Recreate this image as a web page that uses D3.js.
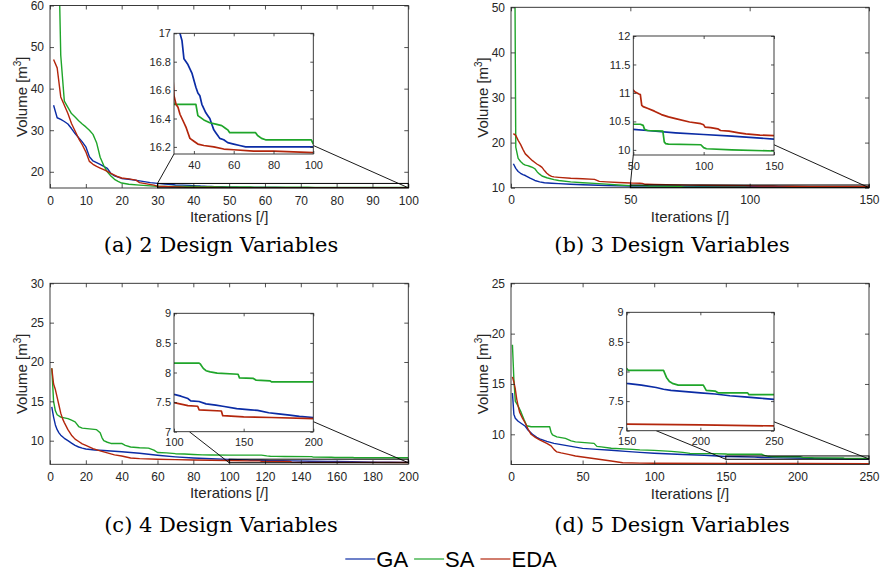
<!DOCTYPE html>
<html>
<head>
<meta charset="utf-8">
<script src="https://cdn.jsdelivr.net/npm/d3@7/dist/d3.min.js"></script>
<style>
  body { margin: 0; background: #fff; }
  svg { display: block; }
</style>
</head>
<body>
<script>
const algorithms = ['GA', 'SA', 'EDA'];
const colors = ['#0b2ca5', '#1fa52a', '#b3260c'];

// (a) 2 design variables: [iteration, volume]
const gaA = [[1,36],[2,33],[3,32.6],[4,32.1],[5,31.5],[6,30.4],[7,29.2],[8,28.2],[9,27.2],[10,26],[11,23.6],[12,22.6],[13,22.2],[14,21.8],[15,21.3],[16,20.8],[17,19.6],[18,19],[19,18.7],[20,18.4],[22,18.2],[25,17.8],[28,17.4],[30,17.2],[32,17.05],[34,16.95],[35,16.82],[37,16.78],[39,16.72],[41,16.62],[42,16.58],[43,16.56],[44,16.5],[45,16.47],[46,16.44],[47,16.42],[48,16.4],[49,16.36],[50,16.32],[51,16.3],[52,16.28],[53,16.26],[55,16.25],[57,16.23],[60,16.22],[63,16.21],[66,16.2],[100,16.2]];
const saA = [[1,150],[2,90],[3,48],[4,37],[5,35.5],[6,34],[7,33.2],[8,32.3],[9,31.5],[10,30.8],[11,30],[12,29],[13,27],[14,23.5],[15,21.5],[16,20],[17,19],[18,18.2],[19,17.7],[20,17.3],[22,17],[25,16.8],[28,16.6],[30,16.5],[41,16.5],[42,16.42],[45,16.39],[48,16.37],[51,16.36],[54,16.35],[56,16.33],[57,16.32],[58,16.3],[71,16.3],[72,16.28],[74,16.26],[76,16.25],[99,16.25],[100,16.22]];
const edaA = [[1,47],[2,45],[3,38],[4,36],[5,34],[6,31.6],[7,29.8],[8,28],[9,26.5],[10,24.8],[11,22.5],[12,21.8],[13,21.3],[14,20.9],[15,20.5],[16,20.1],[17,19.6],[18,19.2],[19,18.8],[20,18.5],[22,18.3],[24,18],[25,17.4],[27,17.1],[29,16.8],[30,16.56],[31,16.5],[32,16.48],[33,16.43],[34,16.4],[35,16.37],[36,16.34],[37,16.3],[38,16.26],[40,16.24],[42,16.22],[45,16.21],[50,16.2],[55,16.185],[60,16.18],[70,16.17],[80,16.17],[100,16.16]];

// (b) 3 design variables
const gaB = [[1,15.3],[2,14.3],[3,13.6],[4,13.2],[5,12.9],[6,12.7],[8,12.1],[10,11.6],[12,11.3],[14,11.1],[17,11],[20,10.9],[25,10.78],[30,10.65],[40,10.5],[50,10.36],[60,10.34],[80,10.3],[100,10.27],[120,10.24],[150,10.19]];
const saB = [[1,120],[2,19],[3,16.5],[4,15.8],[5,15.3],[6,15],[7,14.9],[8,14.7],[9,14.5],[10,14.2],[11,13.5],[12,13],[13,12.6],[15,12.2],[18,11.8],[20,11.6],[25,11.3],[30,11.1],[35,10.95],[40,10.8],[45,10.6],[50,10.45],[55,10.45],[57,10.43],[58,10.36],[60,10.34],[71,10.33],[72,10.14],[73,10.11],[75,10.1],[98,10.09],[100,10.04],[102,10.02],[120,10],[150,9.98]];
const edaB = [[1,22],[2,21.6],[3,20.5],[4,19.6],[5,18.5],[6,17.5],[7,17],[8,16.5],[9,16],[10,15.6],[11,15.2],[12,14.9],[13,14.5],[14,13.8],[15,13.2],[16,12.8],[17,12.5],[18,12.4],[20,12.3],[25,12.1],[30,12],[35,11.85],[37,11.4],[40,11.3],[45,11.15],[50,11.05],[51,11.02],[54,10.98],[55,10.97],[56,10.78],[57,10.76],[60,10.73],[65,10.68],[70,10.62],[75,10.58],[80,10.55],[90,10.49],[98,10.46],[100,10.44],[101,10.4],[105,10.39],[110,10.37],[112,10.34],[118,10.33],[125,10.3],[130,10.28],[140,10.26],[150,10.25]];

// (c) 4 design variables
const gaC = [[1,14.3],[2,13],[3,12],[4,11.4],[5,11],[6,10.7],[8,10.3],[10,10],[12,9.7],[14,9.4],[16,9.2],[18,9.05],[20,8.95],[25,8.82],[30,8.75],[40,8.6],[50,8.4],[60,8.15],[70,7.95],[80,7.8],[90,7.7],[100,7.63],[105,7.6],[110,7.56],[112,7.52],[118,7.51],[123,7.47],[130,7.45],[135,7.43],[145,7.39],[155,7.37],[160,7.36],[168,7.32],[175,7.3],[183,7.28],[190,7.26],[200,7.24]];
const saC = [[1,19.2],[2,15],[3,13.8],[4,13.3],[6,13],[8,12.9],[10,12.8],[12,12.6],[14,12.4],[15,12.1],[16,11.8],[18,11.6],[22,11.5],[26,11.4],[28,11],[29,10.4],[30,10],[32,9.8],[34,9.65],[40,9.65],[42,9.4],[45,9.2],[50,9.1],[55,9.05],[58,8.8],[60,8.5],[65,8.45],[70,8.35],[75,8.3],[80,8.25],[85,8.2],[90,8.18],[100,8.16],[118,8.16],[119,8.14],[121,8.07],[123,8.03],[126,8.01],[131,7.99],[146,7.97],[147,7.91],[157,7.9],[159,7.87],[169,7.86],[170,7.84],[200,7.84]];
const edaC = [[1,19.2],[2,17.2],[3,16.5],[4,15.5],[5,14.5],[6,13.5],[7,12.8],[8,12.3],[10,11.4],[12,10.7],[14,10.2],[16,9.9],[18,9.6],[20,9.4],[24,9],[28,8.7],[32,8.45],[36,8.2],[40,8.05],[45,7.8],[50,7.72],[60,7.65],[70,7.6],[80,7.55],[90,7.52],[100,7.49],[110,7.44],[117,7.43],[118,7.37],[134,7.35],[135,7.27],[150,7.25],[170,7.24],[200,7.22]];

// (d) 5 design variables
const gaD = [[1,14.1],[2,12],[3,11.6],[5,11.3],[8,11],[10,10.8],[12,10.4],[15,10],[18,9.7],[20,9.55],[25,9.3],[30,9.1],[40,8.85],[50,8.6],[60,8.5],[70,8.42],[80,8.3],[90,8.2],[100,8.12],[120,8],[135,7.92],[150,7.8],[160,7.77],[170,7.73],[175,7.7],[180,7.68],[190,7.66],[200,7.64],[210,7.62],[220,7.59],[230,7.57],[240,7.55],[250,7.53]];
const saD = [[1,18.9],[2,15.5],[3,13.3],[5,12.8],[7,12.2],[9,11.5],[11,10.85],[14,10.75],[27,10.75],[28,10.2],[29,9.95],[32,9.75],[38,9.6],[42,9.35],[45,9.25],[58,9.1],[60,8.8],[63,8.75],[70,8.62],[85,8.5],[90,8.45],[100,8.4],[112,8.3],[120,8.2],[125,8.1],[140,8.08],[150,8.05],[151,8.02],[175,8.02],[177,7.9],[179,7.83],[181,7.8],[185,7.77],[202,7.77],[204,7.68],[210,7.67],[212,7.64],[232,7.64],[233,7.61],[250,7.61]];
const edaD = [[1,15.7],[2,15.2],[3,14.5],[4,13.5],[5,12.8],[6,12.2],[8,11.6],[10,11.1],[12,10.5],[14,10],[17,9.7],[20,9.45],[25,9.1],[28,8.85],[30,8.5],[32,8.25],[35,8.15],[40,8],[45,7.85],[50,7.75],[60,7.55],[70,7.35],[78,7.18],[90,7.14],[100,7.12],[150,7.11],[200,7.1],[250,7.08]];

// tick values
const xTicksA = [0,10,20,30,40,50,60,70,80,90,100];
const yTicksA = [20,30,40,50,60];
const xTicksB = [0,50,100,150];
const yTicksB = [10,20,30,40,50];
const xTicksC = [0,20,40,60,80,100,120,140,160,180,200];
const yTicksC = [10,15,20,25,30];
const xTicksD = [0,50,100,150,200,250];
const yTicksD = [10,15,20,25];
const insetXTicksA = [40,60,80,100];
const insetYTicksA = [16.2,16.4,16.6,16.8,17];
const insetXTicksB = [50,100,150];
const insetYTicksB = [10,10.5,11,11.5,12];
const insetXTicksC = [100,150,200];
const insetYTicksC = [7,7.5,8,8.5,9];
const insetXTicksD = [150,200,250];
const insetYTicksD = [7,7.5,8,8.5,9];

const captions = ['(a) 2 Design Variables', '(b) 3 Design Variables', '(c) 4 Design Variables', '(d) 5 Design Variables'];

const panels = [
  { series: [gaA, saA, edaA], caption: captions[0], capX: 221, capY: 252,
    main: { box: [50, 5.5, 408.3, 188], xd: [0, 100], yd: [16.1, 60], xt: xTicksA, yt: yTicksA },
    inset: { box: [174, 33.3, 313.3, 154], xd: [30, 100], yd: [16.15, 17], xt: insetXTicksA, yt: insetYTicksA },
    zoom: { x: [30, 100], y: [16.15, 17.2] },
    links: [[[30, 17.2], [30, 16.15]], [[100, 16.15], [100, 16.21]]] },
  { series: [gaB, saB, edaB], caption: captions[1], capX: 672, capY: 252,
    main: { box: [511, 7.3, 869, 187.7], xd: [0, 150], yd: [10, 50], xt: xTicksB, yt: yTicksB },
    inset: { box: [633.3, 36, 774, 155], xd: [50, 150], yd: [9.91, 12], xt: insetXTicksB, yt: insetYTicksB },
    zoom: { x: [50, 150], y: [10, 10.6] },
    links: [[[50, 10.6], [50, 9.91]], [[150, 10], [150, 10.09]]] },
  { series: [gaC, saC, edaC], caption: captions[2], capX: 221, capY: 532,
    main: { box: [50, 283.3, 408.3, 464.3], xd: [0, 200], yd: [7, 30], xt: xTicksC, yt: yTicksC },
    inset: { box: [174, 313.3, 313.3, 431.7], xd: [100, 200], yd: [7, 9], xt: insetXTicksC, yt: insetYTicksC },
    zoom: { x: [100, 200], y: [7.2, 7.65] },
    links: [[[100, 7.2], [111, 7]], [[200, 7.2], [200, 7.17]]] },
  { series: [gaD, saD, edaD], caption: captions[3], capX: 672, capY: 532,
    main: { box: [511, 283.3, 869, 464.5], xd: [0, 250], yd: [7, 25], xt: xTicksD, yt: yTicksD },
    inset: { box: [626.7, 312.3, 774, 430.7], xd: [150, 250], yd: [7, 9], xt: insetXTicksD, yt: insetYTicksD },
    zoom: { x: [150, 250], y: [7.52, 7.85] },
    links: [[[150, 7.52], [170, 7]], [[250, 7.55], [250, 7.15]]] },
];

const sans = '"Liberation Sans", Arial, sans-serif';
const serif = '"DejaVu Serif", "Liberation Serif", serif';
const axisColor = '#262626';

const svg = d3.select('body').append('svg').attr('width', 883).attr('height', 577);
let clipId = 0;

function drawAxes(g, cfg, series, o) {
  const [x0, y0, x1, y1] = cfg.box;
  const x = d3.scaleLinear().domain(cfg.xd).range([x0, x1]);
  const y = d3.scaleLinear().domain(cfg.yd).range([y1, y0]);
  const id = 'clip' + (clipId++);

  g.append('clipPath').attr('id', id)
    .append('rect').attr('x', x0).attr('y', y0).attr('width', x1 - x0).attr('height', y1 - y0);
  g.append('rect').attr('x', x0).attr('y', y0).attr('width', x1 - x0).attr('height', y1 - y0)
    .attr('fill', '#fff');

  const line = d3.line().x(d => x(d[0])).y(d => y(d[1]));
  g.append('g').attr('clip-path', `url(#${id})`)
    .selectAll('path').data(series).join('path')
    .attr('d', line)
    .attr('fill', 'none')
    .attr('stroke', (d, i) => colors[i])
    .attr('stroke-width', o.lw)
    .attr('stroke-linejoin', 'round');

  const fmt = d => String(d);
  const tl = o.tick;
  const styleAxis = sel => {
    sel.select('.domain').remove();
    sel.selectAll('line').attr('stroke', axisColor).attr('stroke-width', 0.8);
    sel.selectAll('text').style('font-size', o.fs + 'px').style('font-family', sans).style('fill', axisColor);
  };
  g.append('g').attr('transform', `translate(0,${y1})`)
    .call(d3.axisBottom(x).tickValues(cfg.xt).tickFormat(fmt).tickSizeInner(-tl).tickSizeOuter(0).tickPadding(o.xpad))
    .call(styleAxis);
  g.append('g').attr('transform', `translate(0,${y0})`)
    .call(d3.axisTop(x).tickValues(cfg.xt).tickFormat('').tickSizeInner(-tl).tickSizeOuter(0))
    .call(styleAxis);
  g.append('g').attr('transform', `translate(${x0},0)`)
    .call(d3.axisLeft(y).tickValues(cfg.yt).tickFormat(fmt).tickSizeInner(-tl).tickSizeOuter(0).tickPadding(o.ypad))
    .call(styleAxis);
  g.append('g').attr('transform', `translate(${x1},0)`)
    .call(d3.axisRight(y).tickValues(cfg.yt).tickFormat('').tickSizeInner(-tl).tickSizeOuter(0))
    .call(styleAxis);

  g.append('rect').attr('x', x0).attr('y', y0).attr('width', x1 - x0).attr('height', y1 - y0)
    .attr('fill', 'none').attr('stroke', axisColor).attr('stroke-width', 0.9);
  return { x, y };
}

panels.forEach(p => {
  const g = svg.append('g');
  const m = drawAxes(g, p.main, p.series, { lw: 1.4, tick: 4, fs: 12, xpad: 8, ypad: 6 });
  const [x0, y0, x1, y1] = p.main.box;

  // axis labels
  g.append('text').attr('x', (x0 + x1) / 2).attr('y', y1 + 34)
    .attr('text-anchor', 'middle')
    .style('font-family', sans).style('font-size', '15px').style('fill', axisColor)
    .text('Iterations [/]');
  const yl = g.append('text')
    .attr('transform', `translate(${x0 - 23},${(y0 + y1) / 2}) rotate(-90)`)
    .attr('text-anchor', 'middle')
    .style('font-family', sans).style('font-size', '15px').style('fill', axisColor);
  yl.append('tspan').text('Volume [m');
  yl.append('tspan').style('font-size', '10px').attr('dy', -6).text('3');
  yl.append('tspan').attr('dy', 6).text(']');

  // zoom rectangle on the main axes
  g.append('rect')
    .attr('x', m.x(p.zoom.x[0])).attr('y', m.y(p.zoom.y[1]))
    .attr('width', m.x(p.zoom.x[1]) - m.x(p.zoom.x[0]))
    .attr('height', m.y(p.zoom.y[0]) - m.y(p.zoom.y[1]))
    .attr('fill', 'none').attr('stroke', '#000').attr('stroke-width', 1);

  // connector lines (inset drawn on top hides their far ends)
  const ix = d3.scaleLinear().domain(p.inset.xd).range([p.inset.box[0], p.inset.box[2]]);
  const iy = d3.scaleLinear().domain(p.inset.yd).range([p.inset.box[3], p.inset.box[1]]);
  g.selectAll('line.link').data(p.links).join('line').attr('class', 'link')
    .attr('x1', d => m.x(d[0][0])).attr('y1', d => m.y(d[0][1]))
    .attr('x2', d => ix(d[1][0])).attr('y2', d => iy(d[1][1]))
    .attr('stroke', '#000').attr('stroke-width', 0.9);

  drawAxes(g, p.inset, p.series, { lw: 1.7, tick: 3, fs: 11, xpad: 7, ypad: 3 });

  g.append('text').attr('x', p.capX).attr('y', p.capY)
    .attr('text-anchor', 'middle')
    .style('font-family', serif).style('font-size', '21px').style('fill', '#000')
    .text(p.caption);
});

// legend
const legend = svg.append('g');
let lx = 0;
algorithms.forEach((name, i) => {
  legend.append('line').attr('x1', lx).attr('x2', lx + 30).attr('y1', 0).attr('y2', 0)
    .attr('stroke', colors[i]).attr('stroke-width', 1.2);
  const t = legend.append('text').attr('x', lx + 31).attr('y', 8)
    .style('font-family', sans).style('font-size', '22px').style('fill', '#000')
    .text(name);
  lx += 31 + t.node().getComputedTextLength() + 6;
});
legend.attr('transform', `translate(${451 - (lx - 6) / 2},559)`);
</script>
</body>
</html>
